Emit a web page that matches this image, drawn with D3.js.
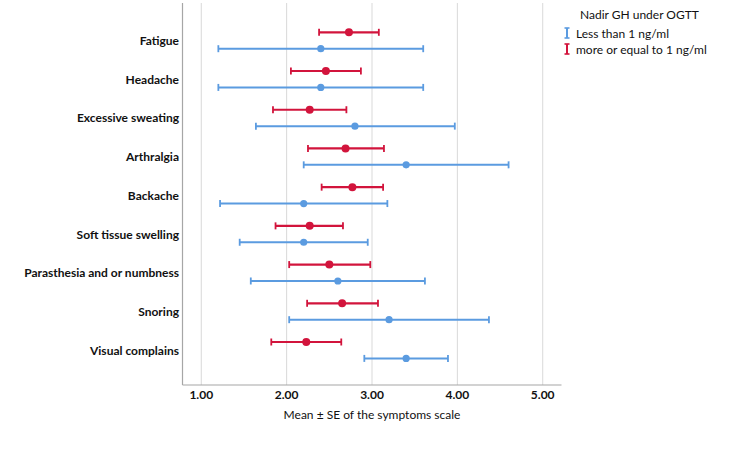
<!DOCTYPE html>
<html>
<head>
<meta charset="utf-8">
<script src="https://cdn.jsdelivr.net/npm/d3@7"></script>
<style>
  body { margin: 0; background: #fff; }
  text { font-family: Lato, "Open Sans", sans-serif; fill: #111; }
</style>
</head>
<body>
<svg id="vis"></svg>
<script>
// symptoms, top to bottom
const symptoms = ["Fatigue", "Headache", "Excessive sweating", "Arthralgia", "Backache",
  "Soft tissue swelling", "Parasthesia and or numbness", "Snoring", "Visual complains"];

// nadir GH < 1 ng/ml  (mean, lower, upper)
const lowMean  = [2.40, 2.40, 2.80, 3.40, 2.20, 2.20, 2.60, 3.20, 3.40];
const lowLower = [1.20, 1.20, 1.64, 2.20, 1.22, 1.45, 1.58, 2.03, 2.91];
const lowUpper = [3.60, 3.60, 3.97, 4.60, 3.18, 2.95, 3.62, 4.37, 3.89];

// nadir GH >= 1 ng/ml
const highMean  = [2.73, 2.46, 2.27, 2.69, 2.77, 2.27, 2.50, 2.65, 2.23];
const highLower = [2.38, 2.05, 1.84, 2.25, 2.41, 1.87, 2.03, 2.24, 1.82];
const highUpper = [3.08, 2.87, 2.70, 3.14, 3.13, 2.66, 2.98, 3.07, 2.64];

const xTicks = [1, 2, 3, 4, 5];
const groups = ["Less than 1 ng/ml", "more or equal to 1 ng/ml"];
const groupColors = ["#5b9be0", "#d2143c"];

drawChart = () => {
  const width = 750, height = 459;
  const svg = d3.select("#vis").attr("width", width).attr("height", height);

  const x = d3.scaleLinear().domain([0.78, 5.22]).range([182.5, 561.5]);
  const y = d3.scalePoint().domain(symptoms).range([40.5, 350.2]);
  const top = 3, bottom = 385;

  // gridlines
  svg.append("g").selectAll("line")
    .data(xTicks)
    .join("line")
      .attr("x1", d => x(d)).attr("x2", d => x(d))
      .attr("y1", top).attr("y2", bottom)
      .style("stroke", "#d9d9d9").style("stroke-width", 1);

  // axes lines
  svg.append("line")
    .attr("x1", x.range()[0]).attr("x2", x.range()[0])
    .attr("y1", top).attr("y2", bottom)
    .style("stroke", "#a6a6a6").style("stroke-width", 1.2);
  svg.append("line")
    .attr("x1", x.range()[0]).attr("x2", x.range()[1])
    .attr("y1", bottom).attr("y2", bottom)
    .style("stroke", "#a6a6a6").style("stroke-width", 1.2);

  // tick labels
  svg.append("g").selectAll("text")
    .data(xTicks)
    .join("text")
      .attr("x", d => x(d))
      .attr("y", 399)
      .attr("text-anchor", "middle")
      .style("font-size", "12px")
      .style("font-weight", "bold")
      .text(d => d3.format(".2f")(d));

  svg.append("text")
    .attr("x", 372).attr("y", 419)
    .attr("text-anchor", "middle")
    .style("font-size", "12px")
    .text("Mean \u00b1 SE of the symptoms scale");

  // category labels
  svg.append("g").selectAll("text")
    .data(symptoms)
    .join("text")
      .attr("x", 179)
      .attr("y", d => y(d) + 4.5)
      .attr("text-anchor", "end")
      .style("font-size", "12px")
      .style("font-weight", "bold")
      .text(d => d);

  const series = [
    {mean: lowMean, lower: lowLower, upper: lowUpper, color: groupColors[0], dy: 8.2, sw: 2, r: 3.6},
    {mean: highMean, lower: highLower, upper: highUpper, color: groupColors[1], dy: -8.2, sw: 2.2, r: 4}
  ];

  series.forEach(s => {
    const rows = symptoms.map((name, i) => ({name, mean: s.mean[i], lo: s.lower[i], hi: s.upper[i]}));
    const g = svg.append("g");
    g.selectAll(".bar").data(rows).join("line")
      .attr("x1", d => x(d.lo)).attr("x2", d => x(d.hi))
      .attr("y1", d => y(d.name) + s.dy).attr("y2", d => y(d.name) + s.dy)
      .style("stroke", s.color).style("stroke-width", s.sw);
    ["lo", "hi"].forEach(k => {
      g.selectAll(".cap-" + k).data(rows).join("line")
        .attr("x1", d => x(d[k])).attr("x2", d => x(d[k]))
        .attr("y1", d => y(d.name) + s.dy - 3.5).attr("y2", d => y(d.name) + s.dy + 3.5)
        .style("stroke", s.color).style("stroke-width", 1.8);
    });
    g.selectAll("circle").data(rows).join("circle")
      .attr("cx", d => x(d.mean)).attr("cy", d => y(d.name) + s.dy)
      .attr("r", s.r)
      .style("fill", s.color);
  });

  // legend
  svg.append("text")
    .attr("x", 580).attr("y", 19)
    .style("font-size", "12px")
    .text("Nadir GH under OGTT");
  const leg = svg.append("g").selectAll("g")
    .data(groups)
    .join("g")
      .attr("transform", (d, i) => `translate(567, ${33 + i * 16})`);
  leg.append("line")
    .attr("x1", 0).attr("x2", 0).attr("y1", -5).attr("y2", 5)
    .style("stroke", (d, i) => groupColors[i]).style("stroke-width", 2);
  leg.append("line")
    .attr("x1", -2.5).attr("x2", 2.5).attr("y1", -5).attr("y2", -5)
    .style("stroke", (d, i) => groupColors[i]).style("stroke-width", 1.6);
  leg.append("line")
    .attr("x1", -2.5).attr("x2", 2.5).attr("y1", 5).attr("y2", 5)
    .style("stroke", (d, i) => groupColors[i]).style("stroke-width", 1.6);
  leg.append("text")
    .attr("x", 9).attr("y", 4.5)
    .style("font-size", "12px")
    .text(d => d);
}
drawChart();
</script>
</body>
</html>
